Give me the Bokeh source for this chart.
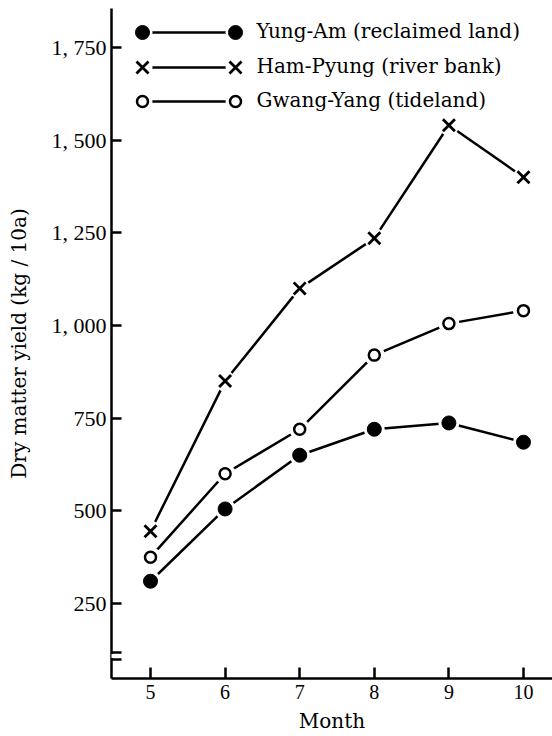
from bokeh.plotting import figure
from bokeh.models import FixedTicker, Range1d, BoxAnnotation, ColumnDataSource
from bokeh.core.properties import value
from bokeh.embed import file_html
from bokeh.resources import INLINE

# ---------------- data ----------------
months = [5, 6, 7, 8, 9, 10]
yung_am = [310, 505, 650, 720, 737, 685]        # filled circles
ham_pyung = [445, 850, 1100, 1235, 1540, 1400]  # crosses
gwang_yang = [375, 600, 720, 920, 1005, 1040]   # open circles

series_labels = ["Yung-Am (reclaimed  land)", "Ham-Pyung (river  bank)", "Gwang-Yang (tideland)"]
y_ticks = [250, 500, 750, 1000, 1250, 1500, 1750]
y_tick_labels = ["250", "500", "750", "1, 000", "1, 250", "1, 500", "1, 750"]
x_ticks = [5, 6, 7, 8, 9, 10]
x_title = "Month"
y_title = "Dry matter yield (kg / 10a)"

# ---------------- layout ----------------
NUM_FONT = "Liberation Serif"
TXT_FONT = "DejaVu Serif"
W, H = 552, 736
BL, BT, BB = 111, 8, 58
FW, FH = W - BL, H - BT - BB
X0, X1 = 4.477, 10.389
Y0, Y1 = 47.7, 1855


def fx(px):  # frame pixel (from left) -> data x
    return X0 + px * (X1 - X0) / FW


def fy(py):  # frame pixel (from top) -> data y
    return Y1 - py * (Y1 - Y0) / FH


p = figure(width=W, height=H, x_range=Range1d(X0, X1), y_range=Range1d(Y0, Y1),
           output_backend="svg", toolbar_location=None,
           min_border_left=BL, min_border_right=0, min_border_top=BT, min_border_bottom=BB)
p.outline_line_color = None
p.xgrid.visible = False
p.ygrid.visible = False
p.background_fill_color = "white"
p.border_fill_color = "white"

for ax in (p.xaxis[0], p.yaxis[0]):
    ax.axis_line_width = 2.5
    ax.axis_line_color = "black"
    ax.major_tick_line_width = 2.5
    ax.major_tick_line_color = "black"
    ax.major_tick_out = 0
    ax.minor_tick_line_color = None
    ax.major_label_text_font = NUM_FONT
    ax.major_label_text_color = "black"
    ax.axis_label_text_font = TXT_FONT
    ax.axis_label_text_font_style = "normal"
    ax.axis_label_text_color = "black"

xa = p.xaxis[0]
xa.ticker = FixedTicker(ticks=x_ticks)
xa.major_tick_in = 11
xa.major_label_text_font_size = "20px"
xa.major_label_standoff = 6
xa.axis_label = x_title
xa.axis_label_text_font_size = "20px"
xa.axis_label_standoff = 7

ya = p.yaxis[0]
ya.ticker = FixedTicker(ticks=y_ticks)
ya.major_label_overrides = dict(zip(y_ticks, y_tick_labels))
ya.major_tick_in = 10
ya.major_label_text_font_size = "22px"
ya.major_label_standoff = 5
ya.axis_label = y_title
ya.axis_label_text_font_size = "20px"
ya.axis_label_standoff = 18

# ---------------- data lines ----------------
src = ColumnDataSource(dict(month=months, yung=yung_am, ham=ham_pyung, gwang=gwang_yang))
cols = ["yung", "ham", "gwang"]
for c in cols:
    p.line("month", c, source=src, line_width=2.5, line_color="black")
for c in cols:
    p.scatter("month", c, source=src, marker="circle", size=21,
              fill_color="white", line_color=None)
p.scatter("month", "yung", source=src, marker="circle", size=14,
          fill_color="black", line_color="black")
p.scatter("month", "ham", source=src, marker="x", size=17,
          line_color="black", line_width=2.8)
p.scatter("month", "gwang", source=src, marker="circle", size=11,
          fill_color="white", line_color="black", line_width=2.5)

# ---------------- legend (drawn) ----------------
leg_x0, leg_x1, leg_tx = fx(31), fx(124), fx(145)
leg_y = [fy(24), fy(59), fy(93)]
markers = [("circle", 14, "black", 1), ("x", 17, "black", 2.8), ("circle", 11, "white", 2.5)]
for yy, (mk, sz, fc, lw), lab in zip(leg_y, markers, series_labels):
    p.line([leg_x0, leg_x1], [yy, yy], line_width=2.5, line_color="black")
    p.scatter([leg_x0, leg_x1], [yy, yy], marker="circle", size=20,
              fill_color="white", line_color=None)
    p.scatter([leg_x0, leg_x1], [yy, yy], marker=mk, size=sz,
              fill_color=fc, line_color="black", line_width=lw)
    p.text([leg_tx], [yy], text=[lab], text_font=value(TXT_FONT), text_font_size="20px",
           text_baseline="middle", text_align="left", text_color="black", y_offset=-2)

# ---------------- axis break ----------------
dx = (X1 - X0) / FW
p.add_layout(BoxAnnotation(left=X0 - 4 * dx, right=X0 + 4 * dx, top=fy(645.5), bottom=fy(649.5),
                           fill_color="white", fill_alpha=1, line_color=None))
for yc in (644, 651):
    p.add_layout(BoxAnnotation(left=X0 - 8 * dx, right=X0 + 10 * dx,
                               top=fy(yc - 1.25), bottom=fy(yc + 1.25),
                               fill_color="black", fill_alpha=1, line_color=None))

open("out.html", "w").write(file_html(p, INLINE))
